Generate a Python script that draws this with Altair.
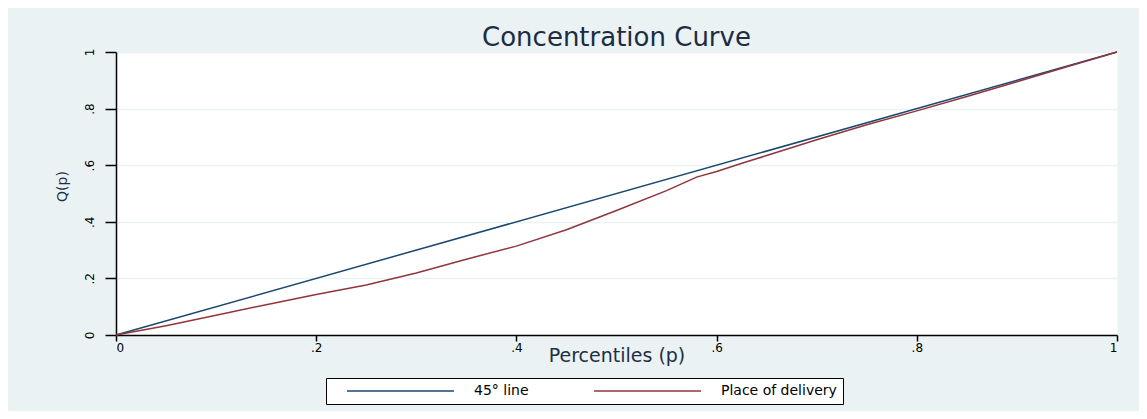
import altair as alt
import pandas as pd

# Concentration curve: cumulative share Q(p) against percentiles p
p_delivery = [0, .05, .1, .15, .2, .25, .3, .35, .4, .45, .5, .55, .58, .6, .63, .65, .7, .75, .8, .85, .9, .95, 1]
q_delivery = [0, .033, .07, .107, .143, .177, .219, .268, .314, .372, .44, .51, .558, .578, .612, .634, .69, .743, .792, .843, .895, .948, 1]
p_equality = [0, 1]
q_equality = [0, 1]

series = ["45° line", "Place of delivery"]
colors = ["#1a476f", "#90353b"]

ticks = [0, 0.2, 0.4, 0.6, 0.8, 1]
tick_labels = ["0", ".2", ".4", ".6", ".8", "1"]

df = pd.concat([
    pd.DataFrame({"p": p_equality, "q": q_equality, "series": series[0]}),
    pd.DataFrame({"p": p_delivery, "q": q_delivery, "series": series[1]}),
], ignore_index=True)

label_expr = f"{tick_labels}[indexof({ticks}, datum.value)]"

FONT = "DejaVu Sans"
BG = "#eaf2f3"

chart = alt.Chart(df).mark_line(strokeWidth=1.5).encode(
    x=alt.X(
        "p:Q",
        scale=alt.Scale(domain=[0, 1], nice=False, zero=False),
        axis=alt.Axis(
            values=ticks, labelExpr=label_expr, title="Percentiles (p)",
            grid=False, tickSize=6, labelPadding=1, labelFontSize=12,
            titleFontSize=19, titleFont=FONT, titleFontWeight="normal",
            titleColor="#1f2f45", titleY=26, titleBaseline="alphabetic",
        ),
    ),
    y=alt.Y(
        "q:Q",
        scale=alt.Scale(domain=[0, 1], nice=False, zero=False),
        axis=alt.Axis(
            values=ticks, labelExpr=label_expr, title="Q(p)",
            grid=True, gridColor=BG, gridWidth=1.5, tickSize=11,
            labelAngle=270, labelAlign="center", labelBaseline="bottom",
            labelPadding=9, labelFontSize=12,
            titleFontSize=14, titleFont=FONT, titleFontWeight="normal",
            titleColor="#1f2f45", titleX=-54, titleY=134,
            titleAlign="center", titleBaseline="middle", titleAngle=270,
        ),
    ),
    color=alt.Color(
        "series:N",
        scale=alt.Scale(domain=series, range=colors),
        legend=alt.Legend(
            orient="none", legendX=210, legendY=326, direction="horizontal",
            title=None, strokeColor="black", fillColor="white", padding=6,
            symbolType="M8,0H115", symbolSize=4, symbolStrokeWidth=1.5,
            labelOffset=128, columnPadding=50, labelFont=FONT,
            labelFontSize=14, labelColor="black",
        ),
    ),
).properties(
    width=1001,
    height=283,
    title=alt.TitleParams(
        "Concentration Curve", font=FONT, fontSize=26, fontWeight="normal",
        color="#1c2c42", anchor="middle", frame="group", offset=-3,
    ),
    autosize=alt.AutoSizeParams(type="none"),
    padding={"left": 108, "top": 44, "right": 22, "bottom": 76},
    background=BG,
).configure_view(
    fill="white", stroke="transparent",
).configure_axis(
    domainColor="black", domainWidth=1.5, tickColor="black", tickWidth=1.5,
    labelColor="black", labelFont=FONT,
)

chart.save("out.html", embed_options={"renderer": "svg", "actions": False})
